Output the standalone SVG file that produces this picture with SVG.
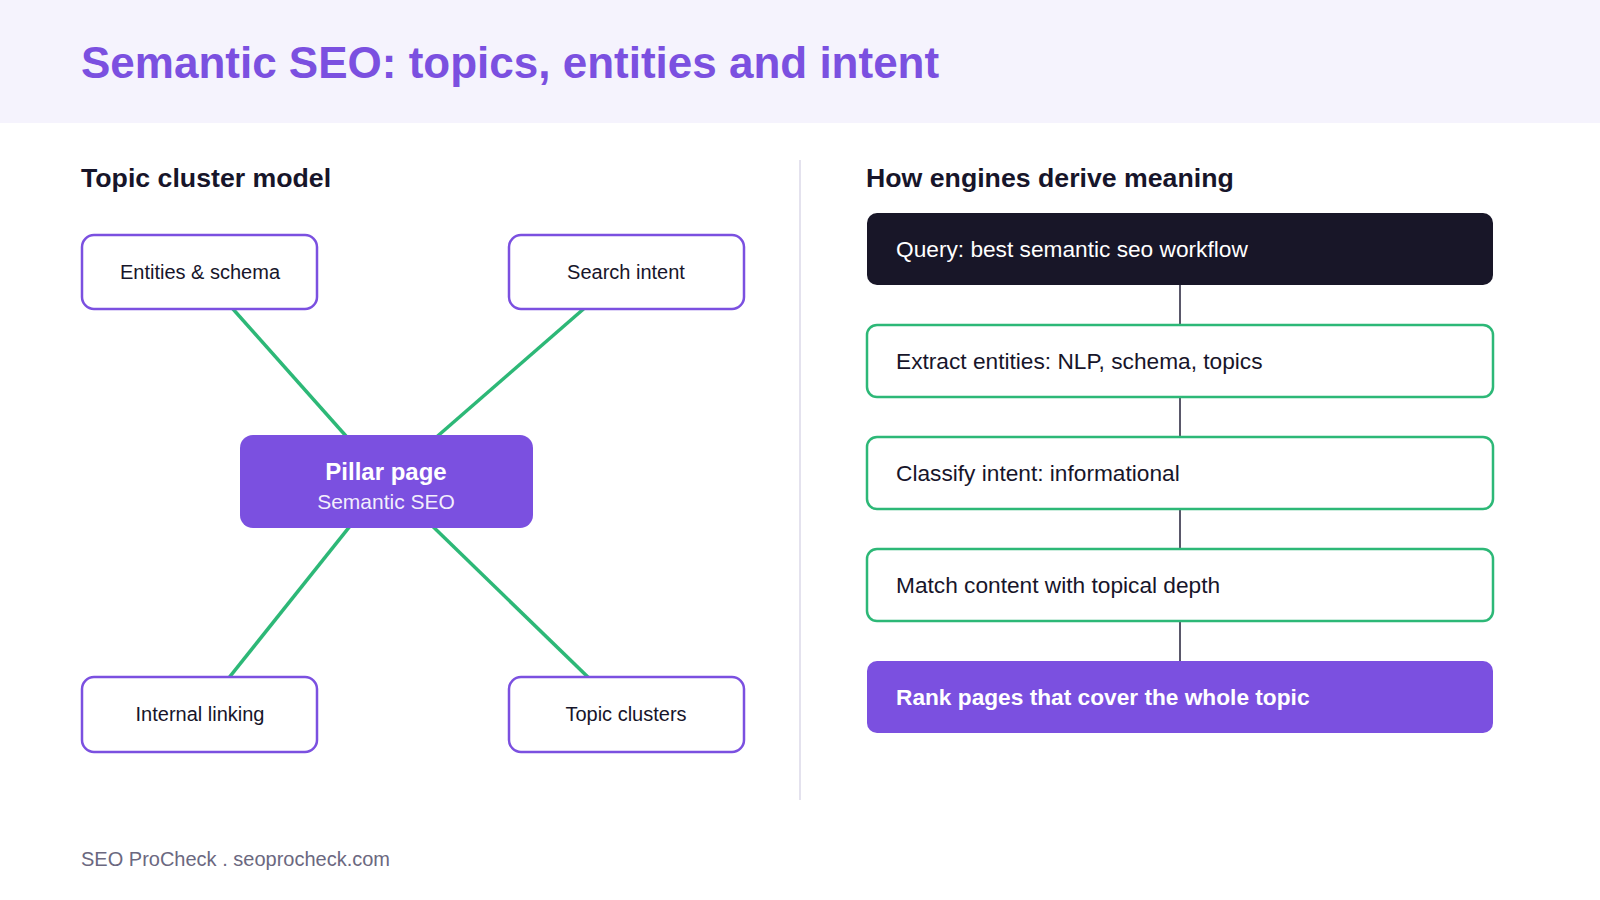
<svg xmlns="http://www.w3.org/2000/svg" width="1600" height="900" viewBox="0 0 1600 900">
<style>
.t{font-family:"Liberation Sans",Arial,sans-serif}
.title{font-size:44px;font-weight:700;fill:#7b50e0}
.h2{font-size:26.7px;font-weight:700;fill:#17152a}
.node{fill:#ffffff;stroke:#7b50e0;stroke-width:2.5}
.nt{font-size:20px;fill:#17152a;text-anchor:middle}
.step{fill:#ffffff;stroke:#2db877;stroke-width:2.5}
.st{font-size:22.7px;fill:#17152a}
.edge{stroke:#2db877;stroke-width:3.5;fill:none}
.flow{stroke:#5a586a;stroke-width:2;fill:none}
</style>
<rect x="0" y="0" width="1600" height="900" fill="#ffffff"/>
<rect x="0" y="0" width="1600" height="123" fill="#f5f3fd"/>
<text class="t title" x="81" y="78">Semantic SEO: topics, entities and intent</text>
<line x1="800" y1="160" x2="800" y2="800" stroke="#e4e2ee" stroke-width="2"/>
<text class="t h2" x="81" y="187">Topic cluster model</text>
<text class="t h2" x="866" y="187">How engines derive meaning</text>

<g id="connectors">
<line class="edge" x1="200" y1="272" x2="386" y2="481"/>
<line class="edge" x1="626" y1="272" x2="386" y2="481"/>
<line class="edge" x1="200" y1="714" x2="386" y2="481"/>
<line class="edge" x1="626" y1="714" x2="386" y2="481"/>
<line class="flow" x1="1180" y1="285" x2="1180" y2="325"/>
<line class="flow" x1="1180" y1="397" x2="1180" y2="437"/>
<line class="flow" x1="1180" y1="509" x2="1180" y2="549"/>
<line class="flow" x1="1180" y1="621" x2="1180" y2="661"/>
</g>

<g id="n-entities">
<rect class="node" x="82" y="235" width="235" height="74" rx="12"/>
<text class="t nt" x="200" y="279">Entities &amp; schema</text>
</g>
<g id="n-intent">
<rect class="node" x="509" y="235" width="235" height="74" rx="12"/>
<text class="t nt" x="626" y="279">Search intent</text>
</g>
<g id="n-linking">
<rect class="node" x="82" y="677" width="235" height="75" rx="12"/>
<text class="t nt" x="200" y="721">Internal linking</text>
</g>
<g id="n-clusters">
<rect class="node" x="509" y="677" width="235" height="75" rx="12"/>
<text class="t nt" x="626" y="721">Topic clusters</text>
</g>
<g id="n-pillar">
<rect x="240" y="435" width="293" height="93" rx="13" fill="#7b50e0"/>
<text class="t" x="386" y="480" font-size="24" font-weight="700" fill="#ffffff" text-anchor="middle">Pillar page</text>
<text class="t" x="386" y="509" font-size="21" fill="#ffffff" fill-opacity="0.92" text-anchor="middle">Semantic SEO</text>
</g>

<g id="s-query">
<rect x="867" y="213" width="626" height="72" rx="10" fill="#181628"/>
<text class="t st" x="896" y="257" style="fill:#ffffff">Query: best semantic seo workflow</text>
</g>
<g id="s-extract">
<rect class="step" x="867" y="325" width="626" height="72" rx="10"/>
<text class="t st" x="896" y="369">Extract entities: NLP, schema, topics</text>
</g>
<g id="s-classify">
<rect class="step" x="867" y="437" width="626" height="72" rx="10"/>
<text class="t st" x="896" y="481">Classify intent: informational</text>
</g>
<g id="s-match">
<rect class="step" x="867" y="549" width="626" height="72" rx="10"/>
<text class="t st" x="896" y="593">Match content with topical depth</text>
</g>
<g id="s-rank">
<rect x="867" y="661" width="626" height="72" rx="10" fill="#7b50e0"/>
<text class="t st" x="896" y="705" font-weight="700" style="fill:#ffffff">Rank pages that cover the whole topic</text>
</g>

<text class="t" x="81" y="866" font-size="20" fill="#6b6880">SEO ProCheck . seoprocheck.com</text>
</svg>
